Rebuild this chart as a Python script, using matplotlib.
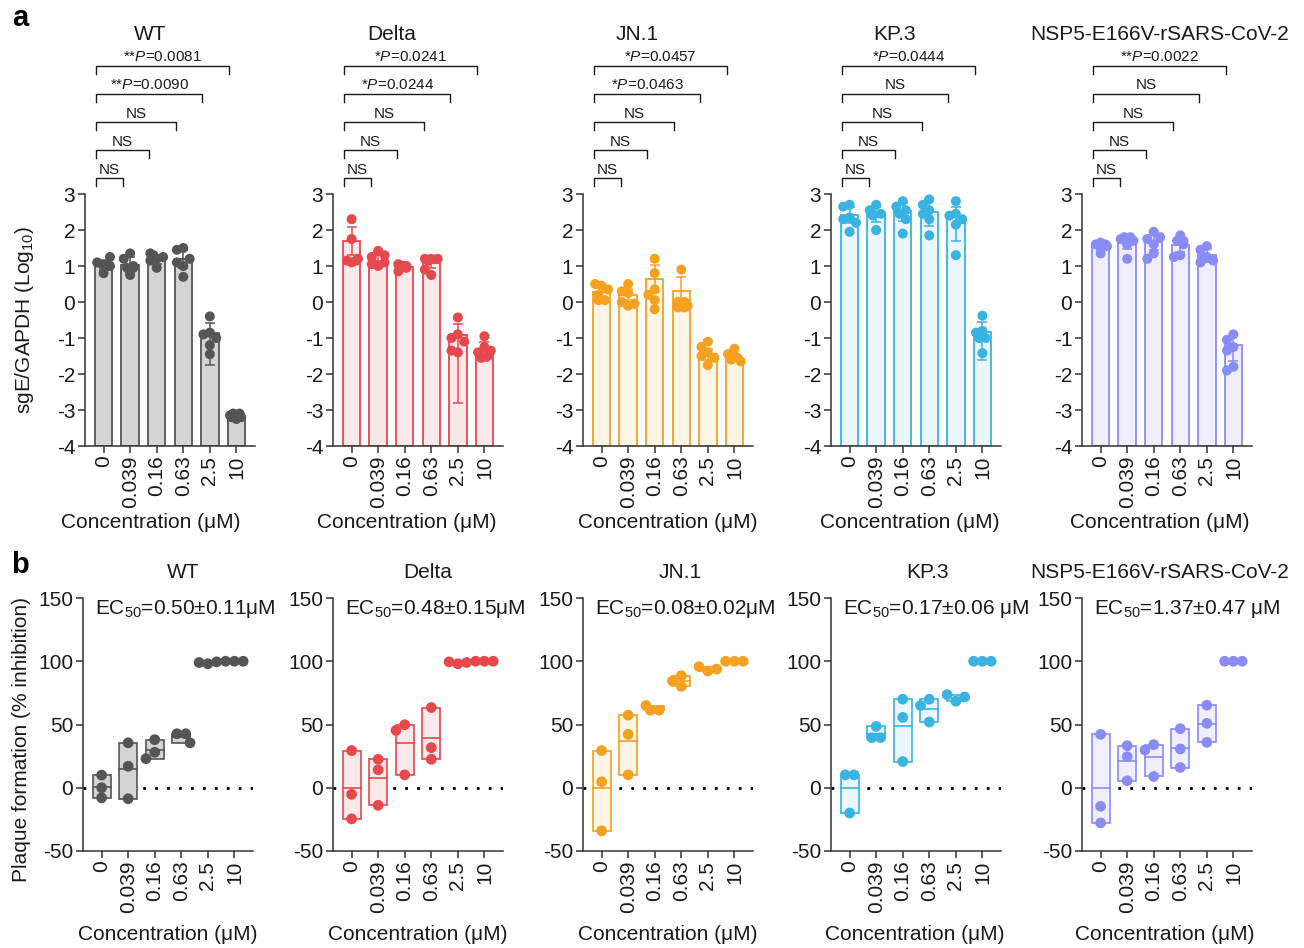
import numpy as np
import matplotlib
matplotlib.use("Agg")
import matplotlib.pyplot as plt

plt.rcParams['font.family'] = ['Liberation Sans', 'DejaVu Sans']
plt.rcParams['mathtext.fontset'] = 'custom'
plt.rcParams['mathtext.rm'] = 'Liberation Sans'
plt.rcParams['mathtext.it'] = 'Liberation Sans:italic'
plt.rcParams['axes.unicode_minus'] = False

# ---------------------------------------------------------------- data
conc = ['0', '0.039', '0.16', '0.63', '2.5', '10']
variants = ['WT', 'Delta', 'JN.1', 'KP.3', 'NSP5-E166V-rSARS-CoV-2']
line_colors = ['#555555', '#e5484d', '#f3a11f', '#3bb3e0', '#8a8cf6']
fill_colors = ['#d4d4d4', '#fbe9e9', '#fef5e6', '#e9f6fc', '#eeeefd']

# panel a : sgE/GAPDH (log10), bar = mean, whisker ends lo/hi, 6 points per dose
wt_bar = [1.03, 1.02, 1.18, 1.2, -0.87, -3.2]
wt_hi = [1.15, 1.25, 1.3, 1.45, -0.58, -3.12]
wt_lo = [0.9, 0.8, 1.06, 0.95, -1.75, -3.26]
wt_pts = [[0.8, 1.05, 1.1, 1.0, 1.25, 1.05],
          [0.75, 0.95, 1.35, 1.0, 1.2, 0.95],
          [0.95, 1.2, 1.35, 1.15, 1.25, 1.3],
          [1.5, 1.45, 0.7, 1.0, 1.1, 1.2],
          [-0.4, -0.85, -0.9, -1.0, -1.2, -1.45],
          [-3.1, -3.15, -3.2, -3.25, -3.1, -3.2]]

delta_bar = [1.7, 1.15, 0.96, 1.08, -0.91, -1.3]
delta_hi = [2.08, 1.3, 1.04, 1.22, -0.6, -1.1]
delta_lo = [1.3, 1.0, 0.88, 0.94, -2.8, -1.65]
delta_pts = [[2.3, 1.75, 1.1, 1.15, 1.2, 1.15],
             [1.42, 1.25, 1.3, 1.0, 1.1, 1.05],
             [1.0, 1.05, 0.95, 1.0, 0.85, 0.97],
             [1.2, 1.2, 1.2, 0.75, 0.9, 1.15],
             [-0.43, -0.9, -1.0, -1.1, -1.4, -1.35],
             [-0.95, -1.25, -1.4, -1.5, -1.55, -1.35]]

jn1_bar = [0.28, 0.2, 0.65, 0.3, -1.45, -1.55]
jn1_hi = [0.42, 0.35, 1.02, 0.7, -1.3, -1.45]
jn1_lo = [0.14, 0.05, 0.28, -0.1, -1.6, -1.65]
jn1_pts = [[0.45, 0.5, 0.35, 0.05, 0.05, 0.2],
           [0.5, -0.1, 0.25, 0.3, 0.0, -0.05],
           [1.2, 0.8, 0.35, 0.2, 0.05, -0.2],
           [0.9, 0.0, -0.15, -0.1, 0.0, -0.15],
           [-1.1, -1.25, -1.4, -1.5, -1.55, -1.75],
           [-1.3, -1.45, -1.55, -1.6, -1.65, -1.5]]

kp3_bar = [2.42, 2.45, 2.52, 2.5, 2.35, -0.82]
kp3_hi = [2.65, 2.65, 2.75, 2.85, 2.65, -0.55]
kp3_lo = [2.2, 2.22, 2.25, 2.1, 1.7, -1.6]
kp3_pts = [[2.7, 2.65, 2.35, 2.3, 2.2, 1.95],
           [2.7, 2.55, 2.45, 2.4, 2.45, 2.0],
           [2.8, 2.65, 2.55, 2.45, 2.3, 1.9],
           [2.85, 2.7, 2.55, 2.45, 2.3, 1.85],
           [2.8, 2.45, 2.4, 2.3, 2.15, 1.3],
           [-0.38, -0.8, -0.85, -1.0, -1.0, -1.42]]

nsp5_bar = [1.6, 1.65, 1.67, 1.58, 1.3, -1.2]
nsp5_hi = [1.7, 1.85, 1.88, 1.78, 1.48, -0.95]
nsp5_lo = [1.5, 1.48, 1.45, 1.38, 1.12, -1.65]
nsp5_pts = [[1.65, 1.6, 1.55, 1.6, 1.35, 1.5],
            [1.8, 1.75, 1.7, 1.8, 1.2, 1.6],
            [1.95, 1.75, 1.8, 1.6, 1.35, 1.2],
            [1.85, 1.7, 1.6, 1.3, 1.25, 1.7],
            [1.55, 1.45, 1.25, 1.1, 1.15, 1.2],
            [-0.9, -1.05, -1.25, -1.35, -1.8, -1.9]]

# comparison brackets (0 vs dose j), bottom to top
wt_sig = ['NS', 'NS', 'NS', '**P=0.0090', '**P=0.0081']
delta_sig = ['NS', 'NS', 'NS', '*P=0.0244', '*P=0.0241']
jn1_sig = ['NS', 'NS', 'NS', '*P=0.0463', '*P=0.0457']
kp3_sig = ['NS', 'NS', 'NS', 'NS', '*P=0.0444']
nsp5_sig = ['NS', 'NS', 'NS', 'NS', '**P=0.0022']

# panel b : plaque formation (% inhibition), 3 points per dose
wt_inh = [[10, 0, -8], [35.5, 17, -8.7], [38, 28, 23], [42.7, 42.7, 35.5],
          [98, 99, 99.5], [100, 100, 100]]
delta_inh = [[29.4, -5.2, -24.6], [22.5, 14.2, -13.9], [49.8, 45.3, 10.2],
             [63.4, 31.7, 22.5], [98, 99.5, 99], [100, 100, 100]]
jn1_inh = [[29.4, 4.7, -34.1], [57.4, 42.2, 10.2], [61.3, 65, 61.3],
           [88.6, 80.2, 84.4], [92.3, 95.7, 93.8], [100, 100, 100]]
kp3_inh = [[10.2, 10.2, -20], [48.5, 39.6, 39.6], [70, 55.6, 20.7],
           [70, 65, 51.9], [68.4, 73.6, 71.8], [100, 100, 100]]
nsp5_inh = [[42.2, -14.7, -27.8], [33.3, 24.6, 5.5], [34.1, 29.9, 8.9],
            [46.7, 30.7, 16.0], [65.3, 50.9, 35.9], [100, 100, 100]]

ec50_text = ['EC$_{50}$=0.50\u00b10.11\u03bcM', 'EC$_{50}$=0.48\u00b10.15\u03bcM',
             'EC$_{50}$=0.08\u00b10.02\u03bcM', 'EC$_{50}$=0.17\u00b10.06 \u03bcM',
             'EC$_{50}$=1.37\u00b10.47 \u03bcM']

a_bar = [wt_bar, delta_bar, jn1_bar, kp3_bar, nsp5_bar]
a_hi = [wt_hi, delta_hi, jn1_hi, kp3_hi, nsp5_hi]
a_lo = [wt_lo, delta_lo, jn1_lo, kp3_lo, nsp5_lo]
a_pts = [wt_pts, delta_pts, jn1_pts, kp3_pts, nsp5_pts]
a_sig = [wt_sig, delta_sig, jn1_sig, kp3_sig, nsp5_sig]
b_pts = [wt_inh, delta_inh, jn1_inh, kp3_inh, nsp5_inh]

# ---------------------------------------------------------------- layout (pixels)
W, H = 1304, 948
lefts_a = [85, 333, 583, 831, 1082]
lefts_b = [83, 333, 583, 831, 1082]
ax_w = 170
a_top, a_bot = 194, 446
b_top, b_bot = 598, 851
title_a_x = [150, 392, 637, 895, 1160]
title_b_x = [183, 428, 680, 928, 1160]
xlab_a_x = [151, 407, 668, 910, 1160]
xlab_b_x = [168, 418, 668, 915, 1165]
TXT = '#1a1a1a'
AX = '#333333'


def swarm(vals, yscale, step, diam, maxoff):
    # simple beeswarm: place each point at the nearest free offset
    placed = []
    xs = []
    cands = [0.0]
    k = 1
    while k * step <= maxoff + 1e-9:
        cands += [-k * step, k * step]
        k += 1
    for v in vals:
        best, bestd = 0.0, -1
        for off in cands:
            d = min([np.hypot((off - px) * 26.6, (v - py) * yscale) for px, py in placed] or [99])
            if d >= diam:
                best = off
                break
            if d > bestd:
                best, bestd = off, d
        placed.append((best, v))
        xs.append(best)
    xs = np.array(xs)
    # center rows of points that sit at the same height
    vals = np.array(vals, dtype=float)
    for v in np.unique(vals):
        row = np.abs(vals - v) * yscale < 1.0
        if row.sum() > 1:
            xs[row] -= xs[row].mean()
    return xs


def style_axes(ax):
    for s in ['top', 'right']:
        ax.spines[s].set_visible(False)
    for s in ['left', 'bottom']:
        ax.spines[s].set_linewidth(1.1)
        ax.spines[s].set_color(AX)
    ax.tick_params(direction='out', length=5, width=1.1, color=AX,
                   labelsize=15, labelcolor=TXT, pad=2)
    ax.set_xlim(-0.7, 5.7)
    ax.set_xticks(range(len(conc)))
    ax.set_xticklabels(conc, rotation=90)


def px2fig(left, top, bot):
    return [left / W, 1 - bot / H, ax_w / W, (bot - top) / H]


fig = plt.figure(figsize=(W / 100, H / 100), dpi=100)
x = np.arange(len(conc))

# ---------------------------------------------------------------- panel a
for i in range(5):
    ax = fig.add_axes(px2fig(lefts_a[i], a_top, a_bot))
    style_axes(ax)
    ax.set_ylim(-4, 3)
    ax.set_yticks(range(-4, 4))
    lc, fc = line_colors[i], fill_colors[i]
    tops = np.array(a_bar[i])
    ax.bar(x, tops + 4, bottom=-4, width=0.66, color=fc, edgecolor=lc,
           linewidth=1.3, zorder=2)
    yerr = [tops - np.array(a_lo[i]), np.array(a_hi[i]) - tops]
    ax.errorbar(x, tops, yerr=yerr, fmt='none', ecolor=lc, elinewidth=1.1,
                capsize=3.5, capthick=1.1, zorder=3)
    for j in range(len(conc)):
        offs = swarm(a_pts[i][j], 36, 0.12, 8, 0.3)
        ax.scatter(j + offs, a_pts[i][j], s=52, color=lc, edgecolor='none', zorder=4)
    # brackets
    for k, lab in enumerate(a_sig[i]):
        yb = 3.44 + 0.78 * k
        j = k + 1
        x0, x1 = -0.28, j - 0.28
        ax.plot([x0, x0, x1, x1], [yb - 0.22, yb, yb, yb - 0.22], color=TXT,
                lw=1.0, clip_on=False)
        if lab.startswith('*'):
            stars = lab.split('P')[0]
            txt = stars + r'$\mathit{P}$' + lab[len(stars) + 1:]
        else:
            txt = lab
        ax.text((x0 + x1) / 2, yb + 0.04, txt, ha='center', va='bottom',
                fontsize=11, color=TXT, clip_on=False)
    fig.text(title_a_x[i] / W, 1 - 35 / H, variants[i], ha='center', va='center',
             fontsize=15, color=TXT)
    fig.text(xlab_a_x[i] / W, 1 - 523 / H, 'Concentration (\u03bcM)', ha='center',
             va='center', fontsize=15, color=TXT)

fig.text(25 / W, 1 - 320 / H, 'sgE/GAPDH (Log$_{10}$)', rotation=90, ha='center',
         va='center', fontsize=15, color=TXT)

# ---------------------------------------------------------------- panel b
for i in range(5):
    ax = fig.add_axes(px2fig(lefts_b[i], b_top, b_bot))
    style_axes(ax)
    ax.set_ylim(-50, 150)
    ax.set_yticks([-50, 0, 50, 100, 150])
    lc, fc = line_colors[i], fill_colors[i]
    ax.axhline(0, color='black', lw=2, ls=(0, (1, 3.3)), zorder=1)
    for j in range(len(conc)):
        v = np.array(b_pts[i][j])
        lo, hi, mu = v.min(), v.max(), v.mean()
        if hi - lo > 0.5:
            ax.bar(j, hi - lo, bottom=lo, width=0.68, color=fc, edgecolor=lc,
                   linewidth=1.2, zorder=2)
            ax.plot([j - 0.34, j + 0.34], [mu, mu], color=lc, lw=1.2, zorder=3)
        offs = swarm(v, 1.26, 0.33, 9.5, 0.4)
        ax.scatter(j + offs, v, s=60, color=lc, edgecolor='none', zorder=4)
    ax.text(0.07, 0.957, ec50_text[i], transform=ax.transAxes, ha='left',
            va='center', fontsize=15, color=TXT, clip_on=False)
    fig.text(title_b_x[i] / W, 1 - 573 / H, variants[i], ha='center', va='center',
             fontsize=15, color=TXT)
    fig.text(xlab_b_x[i] / W, 1 - 935 / H, 'Concentration (\u03bcM)', ha='center',
             va='center', fontsize=15, color=TXT)

fig.text(22 / W, 1 - 740 / H, 'Plaque formation (% inhibition)', rotation=90,
         ha='center', va='center', fontsize=15, color=TXT)

fig.text(20 / W, 1 - 18 / H, 'a', ha='center', va='center', fontsize=21,
         fontweight='bold', color='black')
fig.text(20 / W, 1 - 565 / H, 'b', ha='center', va='center', fontsize=21,
         fontweight='bold', color='black')

fig.savefig('out.png', dpi=100)
